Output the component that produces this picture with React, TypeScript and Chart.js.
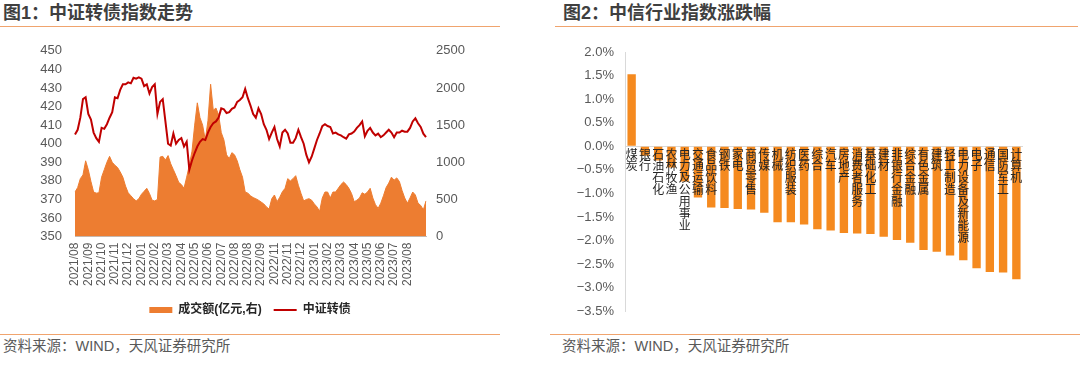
import React, { useEffect, useRef } from 'react';
import { Chart, registerables } from 'chart.js';

Chart.register(...registerables);

const FONT = '"Liberation Sans", "Noto Sans CJK SC", Arial, sans-serif';
const AREA_ORANGE = '#ED7D31';
const BAR_ORANGE = '#F58A1F';
const LINE_RED = '#C00000';
const RULE = '#F0A46E';
const TEXT_GREY = '#595959';

const dateTicks = [
  '2021/08', '2021/09', '2021/10', '2021/11', '2021/12', '2022/01', '2022/02', '2022/03', '2022/04',
  '2022/05', '2022/06', '2022/07', '2022/08', '2022/08', '2022/09', '2022/11', '2022/11', '2022/12',
  '2023/01', '2023/02', '2023/03', '2023/04', '2023/05', '2023/06', '2023/07', '2023/08',
];

const indexValues = [
  405, 407.5, 414, 424, 425, 416, 413, 406, 403, 401,
  408.5, 408, 410.5, 414, 417, 425, 424.5, 429, 432, 432,
  433, 432.5, 435.5, 435, 435.7, 435, 431, 432, 427, 430.5,
  432, 416, 422.5, 424, 412, 400, 399, 405.5, 400, 402,
  403, 398.5, 401, 386, 391, 395, 398.5, 401, 402.5, 402,
  406, 409, 411, 412, 414, 419, 418.5, 416.5, 417, 418.8,
  419.5, 422.5, 423.5, 425, 429.5, 424.5, 420.5, 416, 414, 419,
  416, 410.5, 407.5, 402.5, 406, 409, 402.5, 398.5, 406, 407.5,
  405.5, 400.5, 400.5, 403, 407.5, 403.5, 400, 394, 390, 393,
  397.5, 402, 405.5, 409.5, 410.5, 409.5, 409, 405.5, 406, 405,
  404.5, 403.5, 402.7, 405, 405.5, 406.5, 408.5, 410, 412, 404,
  407, 408.5, 406, 404.5, 405.4, 403.5, 404.5, 406, 407.5, 406,
  403.5, 406, 406, 407, 406.5, 406.5, 408.5, 412, 413.7, 411,
  409, 405.4, 403.5,
];

const turnoverValues = [
  600, 660, 780, 830, 1020, 900, 740, 600, 585, 590,
  800, 900, 1000, 1080, 1000, 960, 930, 870, 800, 680,
  590, 550, 510, 480, 510, 570, 610, 650, 580, 490,
  480, 500, 1070, 1080, 1030, 1090, 980, 900, 820, 730,
  700, 650, 800, 960, 1150, 1500, 1800, 1600, 1500, 1300,
  1560, 2050, 1700, 1730, 1640, 1400, 1300, 1100, 1050, 1130,
  1100, 1020, 900, 800, 600, 585, 550, 525, 510, 490,
  465, 440, 400, 370, 510, 560, 470, 530, 605, 650,
  780, 750, 780, 820, 690, 580, 480, 500, 510, 490,
  440, 400, 340, 520, 600, 600, 520, 600, 600, 650,
  700, 735, 700, 650, 580, 470, 490, 520, 590, 570,
  600, 650, 520, 430, 380, 450, 550, 660, 720, 800,
  760, 790, 740, 620, 520, 450, 520, 600, 560, 450,
  420, 360, 480,
];

const industries = [
  '煤炭', '银行', '石油石化', '农林牧渔', '电力及公用事业', '交通运输', '食品饮料', '钢铁', '家电', '商贸零售',
  '传媒', '机械', '纺织服装', '医药', '综合', '汽车', '房地产', '消费者服务', '基础化工', '建材',
  '非银行金融', '综合金融', '有色金属', '建筑', '轻工制造', '电力设备及新能源', '电子', '通信', '国防军工', '计算机',
];

const changes = [
  1.53, -0.2, -0.3, -0.45, -0.75, -1.09, -1.3, -1.31, -1.33, -1.34,
  -1.41, -1.61, -1.61, -1.66, -1.76, -1.79, -1.84, -1.85, -1.86, -1.92,
  -1.99, -2.05, -2.2, -2.24, -2.32, -2.42, -2.59, -2.67, -2.68, -2.82,
];

function LeftChart() {
  const ref = useRef<HTMLCanvasElement>(null);
  useEffect(() => {
    const labels = indexValues.map((_, i) => (i % 5 === 0 ? dateTicks[i / 5] ?? '' : ''));
    const chart = new Chart(ref.current as HTMLCanvasElement, {
      type: 'line',
      data: {
        labels,
        datasets: [
          {
            label: '中证转债',
            data: indexValues,
            yAxisID: 'y',
            borderColor: LINE_RED,
            backgroundColor: LINE_RED,
            borderWidth: 2,
            pointRadius: 0,
            fill: false,
            tension: 0,
          },
          {
            label: '成交额(亿元,右)',
            data: turnoverValues,
            yAxisID: 'y1',
            borderColor: AREA_ORANGE,
            backgroundColor: AREA_ORANGE,
            borderWidth: 1,
            pointRadius: 0,
            fill: 'origin',
            tension: 0,
          },
        ],
      },
      options: {
        responsive: false,
        animation: false,
        layout: { padding: { top: 20, bottom: 4 } },
        plugins: {
          tooltip: { enabled: false },
          legend: {
            position: 'bottom',
            labels: {
              usePointStyle: true,
              pointStyleWidth: 23,
              boxHeight: 6,
              padding: 12,
              color: '#262626',
              font: { family: FONT, size: 12, weight: 'bold' },
              generateLabels: (c: any) =>
                c.data.datasets
                  .map((ds: any, i: number) => ({
                    text: ds.label,
                    fillStyle: ds.backgroundColor,
                    strokeStyle: ds.borderColor,
                    lineWidth: i === 0 ? 2 : 0,
                    pointStyle: i === 0 ? 'line' : 'rect',
                    hidden: false,
                    datasetIndex: i,
                    fontColor: '#262626',
                  }))
                  .reverse(),
            },
          },
        },
        scales: {
          x: {
            grid: { display: false, drawTicks: false },
            border: { display: true, color: '#BFBFBF' },
            ticks: {
              autoSkip: false,
              minRotation: 90,
              maxRotation: 90,
              padding: 6,
              color: TEXT_GREY,
              font: { family: FONT, size: 12 },
            },
          },
          y: {
            position: 'left',
            min: 350,
            max: 450,
            grid: { display: false, drawTicks: false },
            border: { display: false },
            ticks: {
              stepSize: 10,
              autoSkip: false,
              padding: 13,
              color: TEXT_GREY,
              font: { family: FONT, size: 13 },
              callback: (v: any) => String(v),
            },
            afterFit: (s: any) => {
              s.width = 75;
            },
          },
          y1: {
            position: 'right',
            min: 0,
            max: 2500,
            grid: { display: false, drawTicks: false },
            border: { display: false },
            ticks: {
              stepSize: 500,
              autoSkip: false,
              padding: 10,
              color: TEXT_GREY,
              font: { family: FONT, size: 13 },
              callback: (v: any) => String(v),
            },
            afterFit: (s: any) => {
              s.width = 74;
            },
          },
        },
      } as any,
    });
    return () => chart.destroy();
  }, []);
  return (
    <canvas
      ref={ref}
      width={500}
      height={300}
      style={{ position: 'absolute', left: 0, top: 30, width: 500, height: 300 }}
    />
  );
}

const categoryLabelPlugin = {
  id: 'categoryLabels',
  afterDatasetsDraw(chart: any) {
    const { ctx, scales } = chart;
    const x = scales.x;
    const y = scales.y;
    const y0 = y.getPixelForValue(0);
    ctx.save();
    ctx.font = `12px ${FONT}`;
    ctx.fillStyle = '#262626';
    ctx.textAlign = 'center';
    ctx.textBaseline = 'top';
    chart.data.labels.forEach((name: string, i: number) => {
      const cx = x.getPixelForValue(i);
      Array.from(name).forEach((ch, k) => {
        ctx.fillText(ch, cx, y0 + 3 + k * 11.9);
      });
    });
    ctx.restore();
  },
};

function RightChart() {
  const ref = useRef<HTMLCanvasElement>(null);
  useEffect(() => {
    const chart = new Chart(ref.current as HTMLCanvasElement, {
      type: 'bar',
      data: {
        labels: industries,
        datasets: [
          {
            label: '涨跌幅',
            data: changes,
            backgroundColor: BAR_ORANGE,
            barPercentage: 0.63,
            categoryPercentage: 1,
          },
        ],
      },
      options: {
        responsive: false,
        animation: false,
        layout: { padding: { top: 22, bottom: 17, right: 57 } },
        plugins: { legend: { display: false }, tooltip: { enabled: false } },
        scales: {
          x: { display: false },
          y: {
            min: -3.5,
            max: 2,
            ticks: {
              stepSize: 0.5,
              autoSkip: false,
              padding: 11,
              color: TEXT_GREY,
              font: { family: FONT, size: 13 },
              callback: (v: any) => (v < 0 ? '\u2212' : '') + Math.abs(Number(v)).toFixed(1) + '%',
            },
            grid: {
              drawTicks: false,
              color: (c: any) => (c.tick && Math.abs(c.tick.value) < 1e-9 ? '#D9D9D9' : 'rgba(0,0,0,0)'),
            },
            border: { display: true, color: '#D9D9D9' },
            afterFit: (s: any) => {
              s.width = 85;
            },
          },
        },
      } as any,
      plugins: [categoryLabelPlugin],
    });
    return () => chart.destroy();
  }, []);
  return (
    <canvas
      ref={ref}
      width={540}
      height={300}
      style={{ position: 'absolute', left: 540, top: 30, width: 540, height: 300 }}
    />
  );
}

const titleStyle: React.CSSProperties = {
  position: 'absolute',
  top: 2,
  fontFamily: FONT,
  fontSize: 18,
  fontWeight: 700,
  color: '#3F3F3F',
  whiteSpace: 'nowrap',
  lineHeight: '22px',
};

const sourceStyle: React.CSSProperties = {
  position: 'absolute',
  top: 337,
  fontFamily: FONT,
  fontSize: 14.5,
  color: TEXT_GREY,
  whiteSpace: 'nowrap',
  lineHeight: '18px',
};

function Rule({ left, width, top }: { left: number; width: number; top: number }) {
  return <div style={{ position: 'absolute', left, top, width, height: 1, background: RULE }} />;
}

export default function App() {
  return (
    <div
      style={{
        position: 'fixed',
        left: 0,
        top: 0,
        width: 1080,
        height: 368,
        background: '#FFFFFF',
        overflow: 'hidden',
      }}
    >
      <div style={{ ...titleStyle, left: 3 }}>图1：中证转债指数走势</div>
      <div style={{ ...titleStyle, left: 563 }}>图2：中信行业指数涨跌幅</div>
      <Rule left={0} width={500} top={26} />
      <Rule left={555} width={523} top={26} />
      <LeftChart />
      <RightChart />
      <Rule left={0} width={500} top={334} />
      <Rule left={550} width={530} top={334} />
      <div style={{ ...sourceStyle, left: 3 }}>资料来源：WIND，天风证券研究所</div>
      <div style={{ ...sourceStyle, left: 562 }}>资料来源：WIND，天风证券研究所</div>
    </div>
  );
}
